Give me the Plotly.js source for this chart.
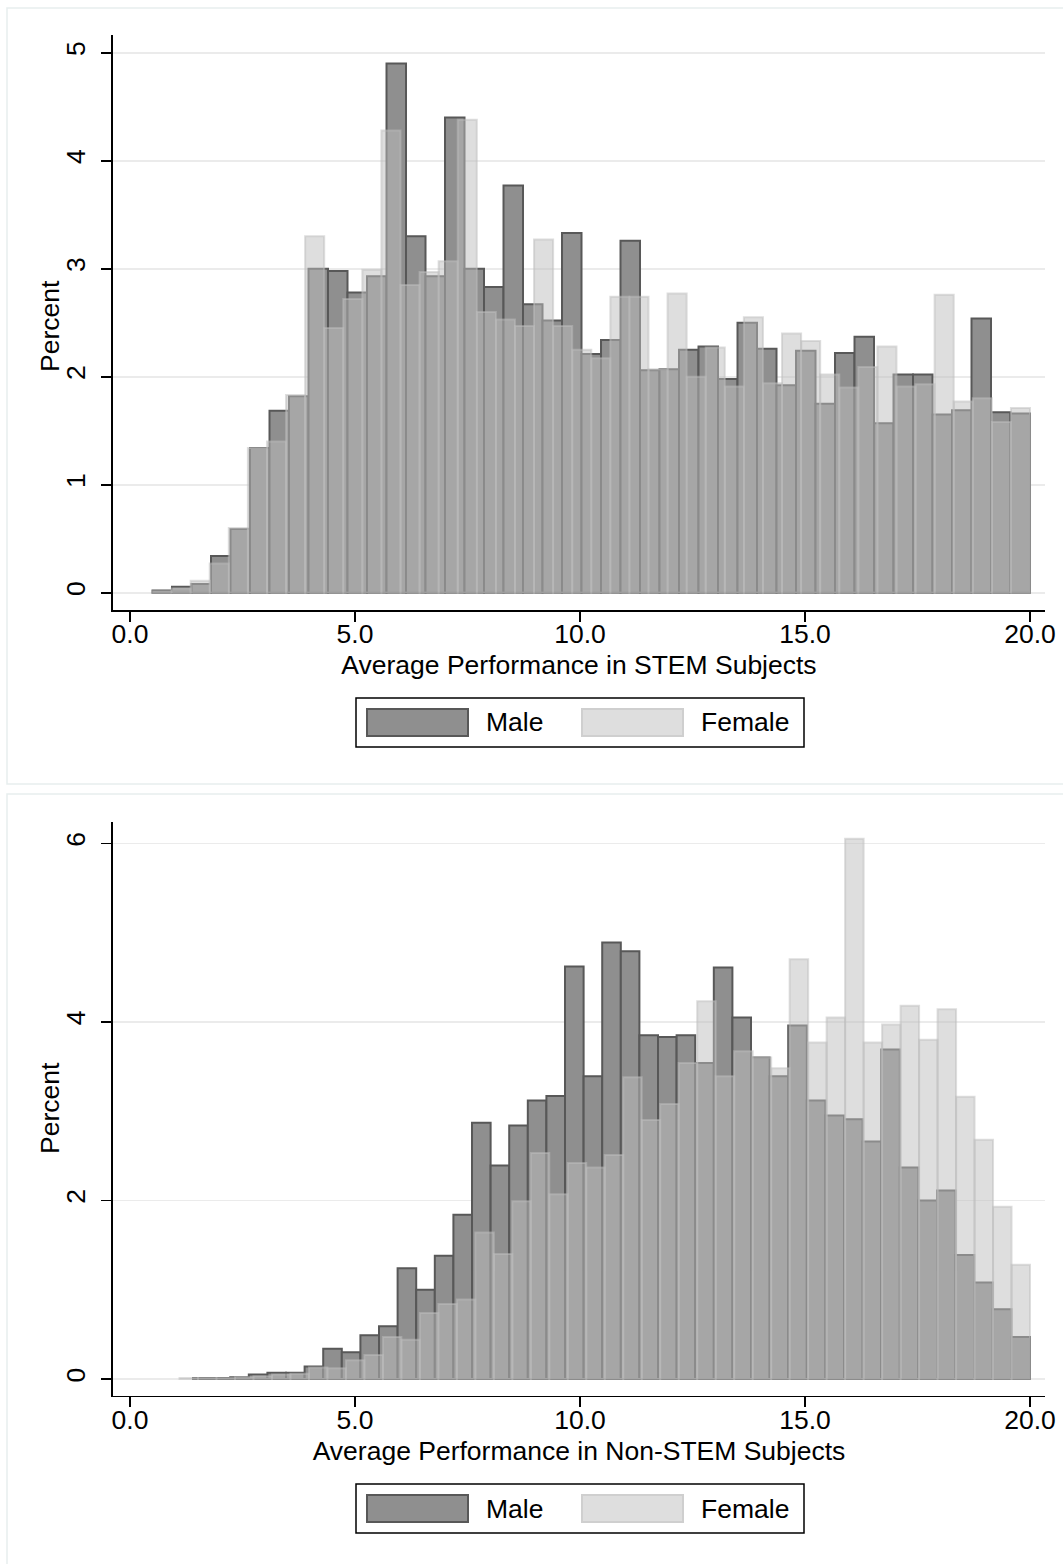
<!DOCTYPE html>
<html>
<head>
<meta charset="utf-8">
<script src="https://cdn.plot.ly/plotly-3.0.1.min.js"></script>
<style>
  html, body { margin: 0; padding: 0; background: #ffffff; }
  #chart { width: 1063px; height: 1564px; }
</style>
</head>
<body>
<div id="chart"></div>
<script>
// Percent of students per score bin (scores run from the lowest observed value up to 20)
const stemMale = [0.02, 0.055, 0.08, 0.34, 0.59, 1.34, 1.685, 1.82, 3.0, 2.98,
  2.78, 2.93, 4.9, 3.30, 2.93, 4.40, 3.00, 2.83, 3.77, 2.67,
  2.52, 3.33, 2.21, 2.34, 3.26, 2.06, 2.07, 2.25, 2.28, 1.98,
  2.50, 2.26, 1.92, 2.24, 1.75, 2.22, 2.37, 1.57, 2.02, 2.02,
  1.65, 1.69, 2.54, 1.67, 1.66];
const stemFemale = [0.015, 0.04, 0.11, 0.27, 0.60, 1.34, 1.40, 1.83, 3.30, 2.45,
  2.72, 2.99, 4.28, 2.85, 2.97, 3.07, 4.38, 2.60, 2.53, 2.47,
  3.27, 2.47, 2.25, 2.17, 2.74, 2.74, 2.07, 2.77, 2.00, 2.27,
  1.91, 2.55, 1.94, 2.40, 2.33, 2.02, 1.90, 2.09, 2.28, 1.91,
  1.93, 2.76, 1.77, 1.80, 1.58, 1.71];
const nonStemMale = [0.01, 0.01, 0.02, 0.05, 0.07, 0.07, 0.14, 0.34, 0.30, 0.49,
  0.59, 1.24, 1.00, 1.38, 1.84, 2.87, 2.39, 2.84, 3.12, 3.17,
  4.62, 3.39, 4.89, 4.79, 3.85, 3.83, 3.85, 3.54, 4.61, 4.05,
  3.60, 3.39, 3.96, 3.12, 2.95, 2.91, 2.66, 3.69, 2.37, 2.00,
  2.11, 1.39, 1.08, 0.78, 0.47];
const nonStemFemale = [0.01, 0.01, 0.01, 0.02, 0.03, 0.05, 0.06, 0.13, 0.12, 0.21,
  0.27, 0.47, 0.44, 0.74, 0.84, 0.89, 1.64, 1.40, 1.99, 2.53,
  2.07, 2.42, 2.37, 2.51, 3.38, 2.90, 3.08, 3.54, 4.23, 3.39,
  3.67, 3.60, 3.48, 4.70, 3.77, 4.05, 6.05, 3.77, 3.97, 4.18,
  3.80, 4.14, 3.16, 2.68, 1.93, 1.28];

// Lower edge of the first bin for each histogram; every histogram ends at 20
const stemMaleLow = 0.5, stemFemaleLow = 0.5;
const nonStemMaleLow = 1.4, nonStemFemaleLow = 1.1;
const scoreMax = 20;

const xTicks = [0, 5, 10, 15, 20];
const seriesNames = ['Male', 'Female'];
const xTitles = ['Average Performance in STEM Subjects', 'Average Performance in Non-STEM Subjects'];
const yTitle = 'Percent';

// ---- styling ----
const FONT = 'Liberation Sans, Arial, Helvetica, sans-serif';
const FS = 26.5;
const W = 1063, H = 1564;
const maleFill = 'rgb(143,143,143)', maleLine = 'rgb(88,88,88)';
const femaleFill = 'rgba(190,190,190,0.5)', femaleLine = 'rgba(190,190,190,0.5)';
const swatchFemaleFill = 'rgb(222,222,222)', swatchFemaleLine = 'rgb(207,207,207)';

function binned(vals, low, high) {
  const w = (high - low) / vals.length;
  return { x: vals.map((_, i) => low + (i + 0.5) * w), w: w };
}

function barTrace(vals, low, name, fill, line, xa, ya) {
  const b = binned(vals, low, scoreMax);
  return {
    type: 'bar', x: b.x, y: vals, width: b.w, name: name,
    xaxis: xa, yaxis: ya, showlegend: false, hoverinfo: 'skip',
    marker: { color: fill, line: { color: line, width: 2 } }
  };
}

const traces = [
  barTrace(stemMale, stemMaleLow, seriesNames[0], maleFill, maleLine, 'x', 'y'),
  barTrace(stemFemale, stemFemaleLow, seriesNames[1], femaleFill, femaleLine, 'x', 'y'),
  barTrace(nonStemMale, nonStemMaleLow, seriesNames[0], maleFill, maleLine, 'x2', 'y2'),
  barTrace(nonStemFemale, nonStemFemaleLow, seriesNames[1], femaleFill, femaleLine, 'x2', 'y2')
];

const px = v => v / W;
const py = v => 1 - v / H;

function xAxis(title, anchor) {
  return {
    domain: [px(113), px(1045)], range: [-0.378, 20.333], anchor: anchor,
    tickvals: xTicks, tickformat: '.1f', ticks: 'outside', ticklen: 10,
    tickwidth: 1.6, tickcolor: '#000', showline: true, linecolor: '#000', linewidth: 1.6,
    showgrid: false, zeroline: false, tickfont: { family: FONT, size: FS, color: '#000' },
    ticklabelstandoff: -10,
    title: { text: title, font: { family: FONT, size: FS, color: '#000' }, standoff: 7 }
  };
}
function yAxis(anchor, domain, range, dtick) {
  return {
    domain: domain, range: range, anchor: anchor, tick0: 0, dtick: dtick,
    tickangle: -90, ticks: 'outside', ticklen: 10, tickwidth: 1.6, tickcolor: '#000',
    showline: true, linecolor: '#000', linewidth: 1.6, zeroline: false,
    showgrid: true, gridcolor: '#ebebeb', gridwidth: 1.6,
    tickfont: { family: FONT, size: FS, color: '#000' }, ticklabelstandoff: 6
  };
}

// Vertical "Percent" label beside each y axis
function yLabel(centerY) {
  return { xref: 'paper', yref: 'paper', x: px(50), y: py(centerY), xanchor: 'center', yanchor: 'middle',
    textangle: -90, text: yTitle, showarrow: false, font: { family: FONT, size: FS, color: '#000' } };
}

// Legend for a panel: framed box with two wide swatches
function legendParts(top) {
  const shapes = [
    { type: 'rect', xref: 'paper', yref: 'paper', x0: px(356), x1: px(804), y0: py(top), y1: py(top + 49),
      line: { color: '#000', width: 1.5 }, fillcolor: '#fff' },
    { type: 'rect', xref: 'paper', yref: 'paper', x0: px(367), x1: px(468), y0: py(top + 11), y1: py(top + 38),
      line: { color: maleLine, width: 2 }, fillcolor: maleFill },
    { type: 'rect', xref: 'paper', yref: 'paper', x0: px(582), x1: px(683), y0: py(top + 11), y1: py(top + 38),
      line: { color: swatchFemaleLine, width: 2 }, fillcolor: swatchFemaleFill }
  ];
  const ann = [
    { xref: 'paper', yref: 'paper', x: px(484), y: py(top + 24.5), xanchor: 'left', yanchor: 'middle',
      text: seriesNames[0], showarrow: false, font: { family: FONT, size: FS, color: '#000' } },
    { xref: 'paper', yref: 'paper', x: px(699), y: py(top + 24.5), xanchor: 'left', yanchor: 'middle',
      text: seriesNames[1], showarrow: false, font: { family: FONT, size: FS, color: '#000' } }
  ];
  return { shapes, ann };
}

const leg1 = legendParts(698);
const leg2 = legendParts(1484);

// Faint frames around each panel
const frames = [
  { type: 'rect', xref: 'paper', yref: 'paper', x0: px(7), x1: px(1075), y0: py(784), y1: py(8),
    line: { color: '#e7eeee', width: 1.5 }, layer: 'below' },
  { type: 'rect', xref: 'paper', yref: 'paper', x0: px(7), x1: px(1075), y0: py(1580), y1: py(794),
    line: { color: '#e7eeee', width: 1.5 }, layer: 'below' }
];

const layout = {
  width: W, height: H, margin: { l: 0, r: 0, t: 0, b: 0 },
  paper_bgcolor: '#fff', plot_bgcolor: '#fff',
  barmode: 'overlay', bargap: 0, showlegend: false,
  font: { family: FONT, size: FS, color: '#000' },
  xaxis: xAxis(xTitles[0], 'y'),
  yaxis: yAxis('x', [py(610), py(35)], [-0.160, 5.164], 1),
  xaxis2: xAxis(xTitles[1], 'y2'),
  yaxis2: yAxis('x2', [py(1395.7), py(821.7)], [-0.187, 6.242], 2),
  shapes: frames.concat(leg1.shapes, leg2.shapes),
  annotations: [yLabel(326), yLabel(1108)].concat(leg1.ann, leg2.ann)
};

Plotly.newPlot('chart', traces, layout, { staticPlot: true, displayModeBar: false });
</script>
</body>
</html>
